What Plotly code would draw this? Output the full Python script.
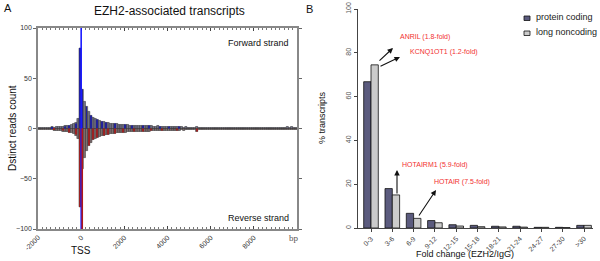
import plotly.graph_objects as go

# ---------------- Panel A data (100 bp bins from -2000 bp to 10000 bp) ----------------
bin_start_bp = -2000
bin_width_bp = 100
forward_counts = [
    1, 1, 1, 1, 1, 1, 2, 1, 2, 2,
    2, 2, 3, 3, 3, 4, 5, 6, 10, 80,
    39, 27, 22, 17, 13, 11, 10, 9, 8, 7,
    7, 6, 6, 5, 5, 5, 5, 4, 4, 4,
    4, 4, 3, 3, 3, 3, 3, 3, 3, 3,
    3, 3, 3, 2, 2, 3, 2, 2, 2, 2,
    2, 2, 2, 2, 2, 2, 2, 1, 2, 1,
    1, 1, 1, 2, 1, 1, 1, 1, 1, 1,
    1, 1, 1, 1, 1, 1, 1, 1, 1, 1,
    1, 1, 1, 1, 1, 1, 1, 1, 1, 1,
    1, 1, 1, 1, 1, 1, 1, 1, 1, 1,
    1, 1, 1, 1, 1, 2, 1, 2, 1, 1,
]
reverse_counts = [
    1, 1, 1, 1, 1, 1, 1, 2, 2, 2,
    2, 3, 3, 3, 4, 4, 5, 7, 10, 78,
    40, 29, 22, 17, 14, 11, 10, 9, 8, 7,
    7, 6, 6, 5, 5, 5, 4, 4, 4, 4,
    4, 3, 3, 3, 3, 3, 3, 3, 3, 3,
    3, 3, 2, 2, 2, 2, 2, 2, 2, 2,
    2, 2, 2, 2, 2, 2, 1, 2, 1, 1,
    1, 1, 1, 3, 1, 1, 1, 1, 1, 1,
    1, 1, 1, 1, 1, 1, 1, 1, 1, 1,
    1, 1, 1, 1, 1, 1, 1, 1, 1, 1,
    1, 1, 1, 1, 1, 1, 1, 1, 1, 1,
    1, 1, 1, 1, 1, 1, 1, 1, 1, 1,
]
# highlighted (coloured) bins on each strand: bin start (bp) and count
blue_bins_bp = [-1400, -800, -600, -300, -100, 0, 200, 400, 700, 900, 1100, 1500, 2000, 2300, 2800, 3100, 3600, 4000, 4500]
blue_counts = [1, 2, 3, 5, 80, 39, 22, 13, 9, 7, 6, 5, 4, 3, 3, 3, 2, 2, 2]
red_bins_bp = [-1300, -900, -600, -300, -100, 0, 300, 500, 700, 1000, 1200, 1500, 1900, 2400, 2800, 3200, 3700, 4400, 5300]
red_counts = [1, 2, 4, 6, 78, 40, 17, 11, 9, 7, 6, 5, 4, 3, 3, 2, 2, 2, 3]
tss_bp = 0
a_xticks = [-2000, 0, 2000, 4000, 6000, 8000]
a_yticks = [-100, -50, 0, 50, 100]

# ---------------- Panel B data ----------------
fold_bins = ["0-3", "3-6", "6-9", "9-12", "12-15", "15-18", "18-21", "21-24", "24-27", "27-30", ">30"]
protein_coding = [66.8, 18.0, 6.7, 3.4, 1.5, 1.2, 0.8, 0.8, 0.3, 0.3, 1.2]
long_noncoding = [74.5, 15.1, 4.4, 2.4, 0.9, 0.6, 0.5, 0.4, 0.3, 0.2, 1.2]
b_yticks = [0, 20, 40, 60, 80, 100]
series_names = ["protein coding", "long noncoding"]
series_colors = ["#5b5b7e", "#cbcbcb"]

FONT = "Liberation Sans, Arial, sans-serif"
W, H = 600, 261


def px(x):
    return x / W


def py(y):
    return 1 - y / H


bin_centers = [bin_start_bp + bin_width_bp * (i + 0.5) for i in range(len(forward_counts))]

fig = go.Figure()

# Panel A: gray histograms
fig.add_trace(go.Bar(x=bin_centers, y=forward_counts, width=bin_width_bp,
                     marker=dict(color="#74748c", line=dict(color="#2a2a2a", width=0.5)),
                     xaxis="x", yaxis="y", showlegend=False))
fig.add_trace(go.Bar(x=bin_centers, y=[-v for v in reverse_counts], width=bin_width_bp,
                     marker=dict(color="#826e70", line=dict(color="#2a2a2a", width=0.5)),
                     xaxis="x", yaxis="y", showlegend=False))
fig.add_trace(go.Bar(x=[b + bin_width_bp / 2 for b in blue_bins_bp], y=blue_counts, width=40,
                     marker=dict(color="#22229a", line=dict(width=0)),
                     xaxis="x", yaxis="y", showlegend=False))
fig.add_trace(go.Bar(x=[b + bin_width_bp / 2 for b in red_bins_bp], y=[-v for v in red_counts], width=40,
                     marker=dict(color="#9a2222", line=dict(width=0)),
                     xaxis="x", yaxis="y", showlegend=False))

# Panel B grouped bars
bar_w = 0.343
fig.add_trace(go.Bar(x=fold_bins, y=protein_coding, name=series_names[0], width=bar_w, offset=-bar_w,
                     marker=dict(color=series_colors[0], line=dict(color="#111111", width=0.8)),
                     xaxis="x2", yaxis="y2", showlegend=False))
fig.add_trace(go.Bar(x=fold_bins, y=long_noncoding, name=series_names[1], width=bar_w, offset=0,
                     marker=dict(color=series_colors[1], line=dict(color="#111111", width=0.8)),
                     xaxis="x2", yaxis="y2", showlegend=False))

# TSS lines
fig.add_shape(type="line", xref="x", yref="y", x0=tss_bp, x1=tss_bp, y0=-100, y1=100,
              line=dict(color="#1a1aff", width=1.6))
fig.add_shape(type="line", xref="x", yref="y", x0=tss_bp + 50, x1=tss_bp + 50, y0=0, y1=-100,
              line=dict(color="#b01818", width=1.6))

# manual legend for panel B
for i, (nm, col) in enumerate(zip(series_names, series_colors)):
    yc = 18 + 15 * i
    fig.add_shape(type="rect", xref="paper", yref="paper", x0=px(524), x1=px(530), y0=py(yc + 2.5), y1=py(yc - 2),
                  fillcolor=col, line=dict(color="#111", width=0.8))

annotations = [
    dict(text="A", x=px(2), y=py(8), xanchor="left", yanchor="middle", font=dict(size=11, color="#111")),
    dict(text="B", x=px(304), y=py(9), xanchor="left", yanchor="middle", font=dict(size=11, color="#111")),
    dict(text="EZH2-associated transcripts", x=px(169), y=py(11), xanchor="center", yanchor="middle",
         font=dict(size=12, color="#111")),
    dict(text="Dstinct reads count", x=px(13), y=py(128), textangle=-90, xanchor="center", yanchor="middle",
         font=dict(size=10, color="#111")),
    dict(text="Forward strand", x=px(291), y=py(43), xanchor="right", yanchor="middle",
         font=dict(size=9, color="#111")),
    dict(text="Reverse strand", x=px(291), y=py(218), xanchor="right", yanchor="middle",
         font=dict(size=9, color="#111")),
    dict(text="TSS", x=px(81), y=py(250), xanchor="center", yanchor="middle", font=dict(size=10, color="#111")),
    dict(text="bp", x=px(294), y=py(238), xanchor="center", yanchor="middle",
         font=dict(size=9, color="#555", family="Liberation Serif, DejaVu Serif, serif")),
    dict(text="% transcripts", x=px(322), y=py(118), textangle=-90, xanchor="center", yanchor="middle",
         font=dict(size=9, color="#111")),
    dict(text="Fold change (EZH2/IgG)", x=px(465), y=py(254), xanchor="center", yanchor="middle",
         font=dict(size=9, color="#111")),
]
for i, nm in enumerate(series_names):
    annotations.append(dict(text=nm, x=px(534), y=py(17 + 15 * i), xanchor="left", yanchor="middle",
                            font=dict(size=9, color="#222")))
red = "#f23030"
for txt, x, y in [("ANRIL (1.8-fold)", 398, 37), ("KCNQ1OT1 (1.2-fold)", 408, 52),
                  ("HOTAIRM1 (5.9-fold)", 400, 165), ("HOTAIR (7.5-fold)", 432, 182)]:
    annotations.append(dict(text=txt, x=px(x), y=py(y), xanchor="left", yanchor="middle",
                            font=dict(size=7, color=red)))
for (hx, hy), (tx, ty) in [((393, 48), (378, 62)), ((400, 57), (379, 67)),
                           ((397, 170), (397, 195)), ((436, 190), (418, 217))]:
    annotations.append(dict(text="", x=px(hx), y=py(hy), ax=tx - hx, ay=ty - hy,
                            showarrow=True, arrowhead=2, arrowsize=1, arrowwidth=1.1, arrowcolor="#111"))
for a in annotations:
    a.setdefault("xref", "paper")
    a.setdefault("yref", "paper")
    a.setdefault("showarrow", False)

fig.update_layout(
    width=W, height=H, autosize=False,
    margin=dict(l=0, r=0, t=0, b=0, pad=0),
    paper_bgcolor="white", plot_bgcolor="white",
    font=dict(family=FONT, color="#222"),
    barmode="overlay",
    showlegend=False,
    annotations=annotations,
    xaxis=dict(domain=[px(38), px(297)], range=[-2000, 10000], anchor="y", automargin=False,
               tickvals=a_xticks, ticktext=[str(v) for v in a_xticks], tickangle=-45,
               tickfont=dict(size=7, color="#333"), ticks="inside", ticklen=3,
               minor=dict(dtick=200, ticks="inside", ticklen=2, tickcolor="#777"),
               showline=True, linecolor="#888", linewidth=1.5, mirror="allticks",
               showgrid=False, zeroline=False),
    yaxis=dict(domain=[py(229), py(28)], range=[-100, 100], anchor="x", automargin=False,
               tickvals=a_yticks, ticktext=["\u2212100", "\u221250", "0", "50", "100"],
               tickfont=dict(size=7, color="#333"), ticks="outside", ticklen=3, tickcolor="#666",
               showline=True, linecolor="#888", linewidth=1.5, mirror="ticks",
               showgrid=False, zeroline=False),
    xaxis2=dict(domain=[px(358), px(593)], range=[-0.61, 10.42], anchor="y2", automargin=False,
                type="category", tickangle=-45, tickfont=dict(size=7, color="#444"),
                ticks="outside", ticklen=3, tickcolor="#444",
                showline=True, linecolor="#444", linewidth=1, showgrid=False, zeroline=False),
    yaxis2=dict(domain=[py(228), py(9)], range=[0, 100], anchor="x2", automargin=False,
                tickvals=b_yticks, tickangle=-90, tickfont=dict(size=7, color="#555"),
                ticks="outside", ticklen=3, tickcolor="#444",
                showline=True, linecolor="#444", linewidth=1, showgrid=False, zeroline=False),
)

fig.write_html("out.html", config={"displayModeBar": False},
               post_script="document.body.style.margin='0';document.body.style.overflow='hidden';")
